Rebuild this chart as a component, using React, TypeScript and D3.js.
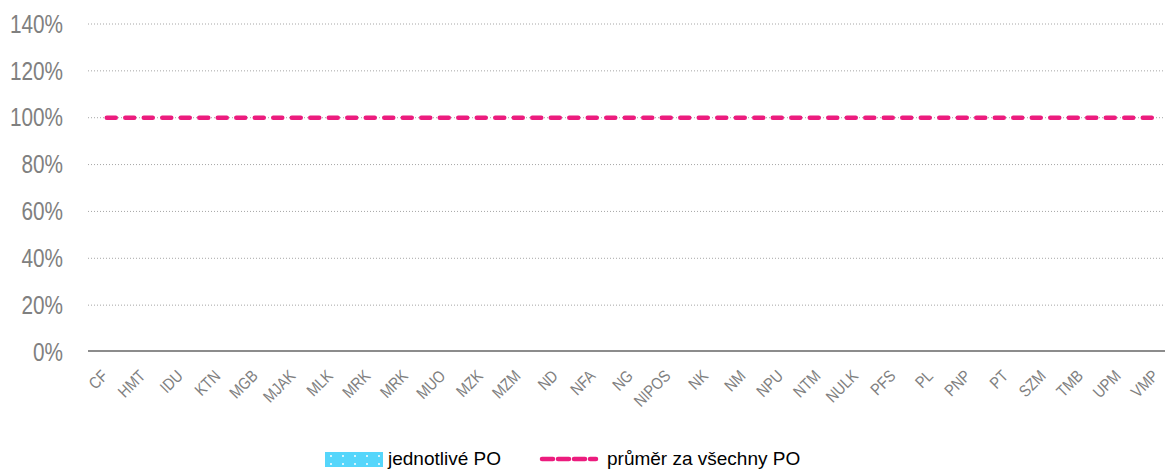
import * as d3 from 'd3';

const categories = [
  'CF', 'HMT', 'IDU', 'KTN', 'MGB', 'MJAK', 'MLK', 'MRK', 'MRK', 'MUO', 'MZK', 'MZM', 'ND', 'NFA', 'NG',
  'NIPOS', 'NK', 'NM', 'NPU', 'NTM', 'NULK', 'PFS', 'PL', 'PNP', 'PT', 'SZM', 'TMB', 'UPM', 'VMP',
];
const individualValues = [0, 0, 0, 0, 0, 0, 0, 0, 0, 0, 0, 0, 0, 0, 0, 0, 0, 0, 0, 0, 0, 0, 0, 0, 0, 0, 0, 0, 0];
const averageValues = [1, 1, 1, 1, 1, 1, 1, 1, 1, 1, 1, 1, 1, 1, 1, 1, 1, 1, 1, 1, 1, 1, 1, 1, 1, 1, 1, 1, 1];
const yTicks = [0, 0.2, 0.4, 0.6, 0.8, 1, 1.2, 1.4];

const WIDTH = 1165;
const HEIGHT = 472;
// plot area runs past the right edge of the picture, as in the original
const PLOT = { left: 88, right: 1176, top: 24, bottom: 352 };
const BLUE = '#55d6fb';
const PINK = '#ec1c7e';
const GRAY = '#808080';
const FONT = '"Liberation Sans", Arial, sans-serif';

export default function App() {
  const idx = categories.map((_, i) => String(i));
  const x = d3.scaleBand().domain(idx).range([PLOT.left, PLOT.right]).paddingInner(0.3).paddingOuter(0.15);
  const xc = d3.scalePoint().domain(idx).range([PLOT.left, PLOT.right]).padding(0.5);
  const y = d3.scaleLinear().domain([0, 1.4]).range([PLOT.bottom, PLOT.top]);

  const line = d3
    .line<number>()
    .x((_, i) => xc(String(i))!)
    .y((d) => y(d));

  return (
    <svg width={WIDTH} height={HEIGHT} style={{ position: 'absolute', left: 0, top: 0, fontFamily: FONT }}>
      <defs>
        <pattern id='dots' width='12' height='8' patternUnits='userSpaceOnUse'>
          <rect width='12' height='8' fill={BLUE} />
          <circle cx='6' cy='4' r='1' fill='#ffffff' />
        </pattern>
      </defs>
      {yTicks.map((t) => (
        <g key={t}>
          {t > 0 && (
            <line
              x1={PLOT.left}
              x2={PLOT.right}
              y1={y(t)}
              y2={y(t)}
              stroke='#a6a6a6'
              strokeWidth={1}
              strokeDasharray='1,2'
            />
          )}
          <text
            transform={`translate(63,${y(t)}) scale(0.83,1)`}
            dy='0.35em'
            textAnchor='end'
            fontSize={25}
            fill={GRAY}
          >
            {`${Math.round(t * 100)}%`}
          </text>
        </g>
      ))}
      {individualValues.map((v, i) => (
        <rect
          key={i}
          x={x(String(i))}
          y={y(v)}
          width={x.bandwidth()}
          height={y(0) - y(v)}
          fill='url(#dots)'
        />
      ))}
      <line x1={PLOT.left} x2={PLOT.right} y1={y(0) - 1} y2={y(0) - 1} stroke='#8c8c8c' strokeWidth={2} />
      {categories.map((c, i) => (
        <g key={i} transform={`translate(${xc(String(i))! + 2},${y(0) + 25}) rotate(-45)`}>
          <text transform='scale(0.85,1)' textAnchor='end' fontSize={16.5} fill={GRAY}>
            {c}
          </text>
        </g>
      ))}
      <path
        d={line(averageValues) ?? ''}
        fill='none'
        stroke={PINK}
        strokeWidth={4.5}
        strokeDasharray='9,9.5'
        strokeLinecap='round'
      />
      <g transform='translate(325,452)'>
        <rect width={58} height={15} fill='url(#dots)' />
        <text x={63} y={13} fontSize={19} fill='#000000'>
          jednotlivé PO
        </text>
      </g>
      <g transform='translate(542,459)'>
        <line x1={0} x2={54} stroke={PINK} strokeWidth={4.5} strokeDasharray='11,5' strokeLinecap='round' />
        <text x={65} y={6} fontSize={19} fill='#000000'>
          průměr za všechny PO
        </text>
      </g>
    </svg>
  );
}
